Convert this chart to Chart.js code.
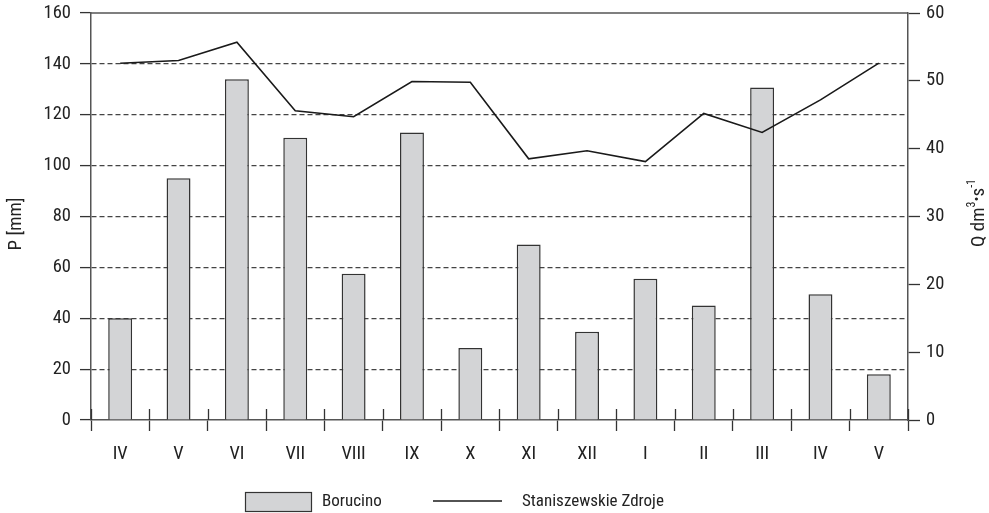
<!DOCTYPE html>
<html>
<head>
<meta charset="utf-8">
<script src="https://cdn.jsdelivr.net/npm/chart.js@4.4.1/dist/chart.umd.min.js"></script>
<style>
  html, body { margin: 0; padding: 0; background: #fff; }
  #wrap { width: 989px; height: 513px; position: relative; }
</style>
</head>
<body>
<div id="wrap"><canvas id="c" width="989" height="513"></canvas></div>
<script>
// Months of the hydrological period
const months = ['IV', 'V', 'VI', 'VII', 'VIII', 'IX', 'X', 'XI', 'XII', 'I', 'II', 'III', 'IV', 'V'];
// Monthly precipitation at Borucino, P [mm]
const precipBorucino = [40, 95, 134, 111, 57.5, 113, 28.3, 69, 34.7, 55.5, 45, 130.7, 49.4, 18];
// Mean discharge at Staniszewskie Zdroje, Q [dm3/s]
const flowStaniszewskie = [52.6, 53.0, 55.7, 45.6, 44.7, 49.9, 49.8, 38.5, 39.7, 38.1, 45.2, 42.4, 47.2, 52.6];
// Axis ranges and steps
const pTicks = { min: 0, max: 160, step: 20 };
const qTicks = { min: 0, max: 60, step: 10 };

const FAMILY = "Roboto, 'Liberation Sans', sans-serif";
const STRETCH = 'semi-condensed';   // narrow Roboto width
const TEXT = '#222';
const AXIS = '#555';
const TICK = '#333';
const BAR_FILL = '#d3d4d6';
const BAR_EDGE = '#333';
const font = size => STRETCH + ' ' + size + 'px ' + FAMILY;
const tickFont = { family: FAMILY, size: 18.5, weight: STRETCH };

// Frame top line, upper halves of month separators, axis titles and legend
const decor = {
  id: 'decor',
  afterDraw(chart) {
    const { ctx, chartArea: a, scales: { x } } = chart;
    ctx.save();
    // top frame line
    ctx.strokeStyle = AXIS;
    ctx.lineWidth = 1.5;
    ctx.beginPath();
    ctx.moveTo(a.left, a.top);
    ctx.lineTo(a.right, a.top);
    ctx.stroke();
    // month separators reaching into the plot
    ctx.strokeStyle = TICK;
    ctx.lineWidth = 1.3;
    const n = x.ticks.length;
    const step = x.getPixelForTick(1) - x.getPixelForTick(0);
    for (let i = 0; i <= n; i++) {
      const px = Math.round(x.getPixelForTick(0) - step / 2 + i * step) + 0.5;
      ctx.beginPath();
      ctx.moveTo(px, a.bottom - 11);
      ctx.lineTo(px, a.bottom);
      ctx.stroke();
    }
    // axis titles
    ctx.fillStyle = TEXT;
    ctx.textBaseline = 'middle';
    ctx.textAlign = 'center';
    ctx.font = font(19);
    ctx.save();
    ctx.translate(16, 224);
    ctx.rotate(-Math.PI / 2);
    ctx.fillText('P [mm]', 0, 0);
    ctx.restore();

    ctx.save();
    ctx.translate(979, 213);
    ctx.rotate(-Math.PI / 2);
    const parts = [
      ['Q dm', 19, 0], ['3', 12, -7], ['\u2022', 15, -1], ['s', 19, 0], ['-1', 12, -7]
    ];
    let total = 0;
    parts.forEach(p => { ctx.font = font(p[1]); total += ctx.measureText(p[0]).width; });
    let cx = -total / 2;
    ctx.textAlign = 'left';
    parts.forEach(p => {
      ctx.font = font(p[1]);
      ctx.fillText(p[0], cx, p[2]);
      cx += ctx.measureText(p[0]).width;
    });
    ctx.restore();

    // legend
    const ds = chart.data.datasets;
    const ly = 501;
    ctx.font = font(17);
    ctx.textAlign = 'left';
    ctx.fillStyle = ds[0].backgroundColor;
    ctx.fillRect(245, 492, 66, 19);
    ctx.strokeStyle = ds[0].borderColor;
    ctx.lineWidth = 1.2;
    ctx.strokeRect(245.5, 492.5, 66, 19);
    ctx.fillStyle = TEXT;
    ctx.fillText(ds[0].label, 322, ly + 1);
    ctx.strokeStyle = ds[1].borderColor;
    ctx.lineWidth = ds[1].borderWidth;
    ctx.beginPath();
    ctx.moveTo(433, ly);
    ctx.lineTo(502, ly);
    ctx.stroke();
    ctx.fillText(ds[1].label, 522, ly + 1);
    ctx.restore();
  }
};

const noEdgePadding = s => { s.paddingTop = 0; s.paddingBottom = 0; };

new Chart(document.getElementById('c'), {
  data: {
    labels: months,
    datasets: [
      {
        type: 'bar',
        label: 'Borucino',
        data: precipBorucino,
        yAxisID: 'y',
        backgroundColor: BAR_FILL,
        borderColor: BAR_EDGE,
        borderWidth: 1.5,
        barPercentage: 0.41,
        categoryPercentage: 1,
        order: 1
      },
      {
        type: 'line',
        label: 'Staniszewskie Zdroje',
        data: flowStaniszewskie,
        yAxisID: 'y1',
        borderColor: '#1a1a1a',
        borderWidth: 1.6,
        pointRadius: 0,
        tension: 0,
        fill: false,
        order: 0
      }
    ]
  },
  options: {
    responsive: false,
    animation: false,
    layout: { padding: { top: 13, left: 0, right: 0, bottom: 0 } },
    plugins: { legend: { display: false }, tooltip: { enabled: false } },
    scales: {
      x: {
        offset: true,
        grid: { display: true, drawOnChartArea: false, offset: true, tickLength: 11, tickColor: TICK, tickWidth: 1.3 },
        border: { display: true, color: AXIS, width: 1.5 },
        ticks: { color: TEXT, font: tickFont, padding: 12, maxRotation: 0, autoSkip: false },
        afterFit: s => { s.height = 93; s.paddingLeft = 0; s.paddingRight = 0; }
      },
      y: {
        position: 'left',
        min: pTicks.min,
        max: pTicks.max,
        ticks: { stepSize: pTicks.step, color: TEXT, font: tickFont, padding: 9 },
        grid: {
          color: c => (c.tick && (c.tick.value === pTicks.max || c.tick.value === pTicks.min)) ? 'rgba(0,0,0,0)' : '#444',
          lineWidth: 1.2,
          tickLength: 11,
          tickColor: TICK,
          tickWidth: 1.3,
          tickBorderDash: []
        },
        border: { display: true, color: AXIS, width: 1.5, dash: [5, 3] },
        afterFit: s => { s.width = 91; noEdgePadding(s); }
      },
      y1: {
        position: 'right',
        min: qTicks.min,
        max: qTicks.max,
        ticks: { stepSize: qTicks.step, color: TEXT, font: tickFont, padding: 6 },
        grid: { drawOnChartArea: false, tickLength: 12, tickColor: TICK, tickWidth: 1.3 },
        border: { display: true, color: AXIS, width: 1.5 },
        afterFit: s => { s.width = 81; noEdgePadding(s); }
      }
    }
  },
  plugins: [decor]
});
</script>
</body>
</html>
